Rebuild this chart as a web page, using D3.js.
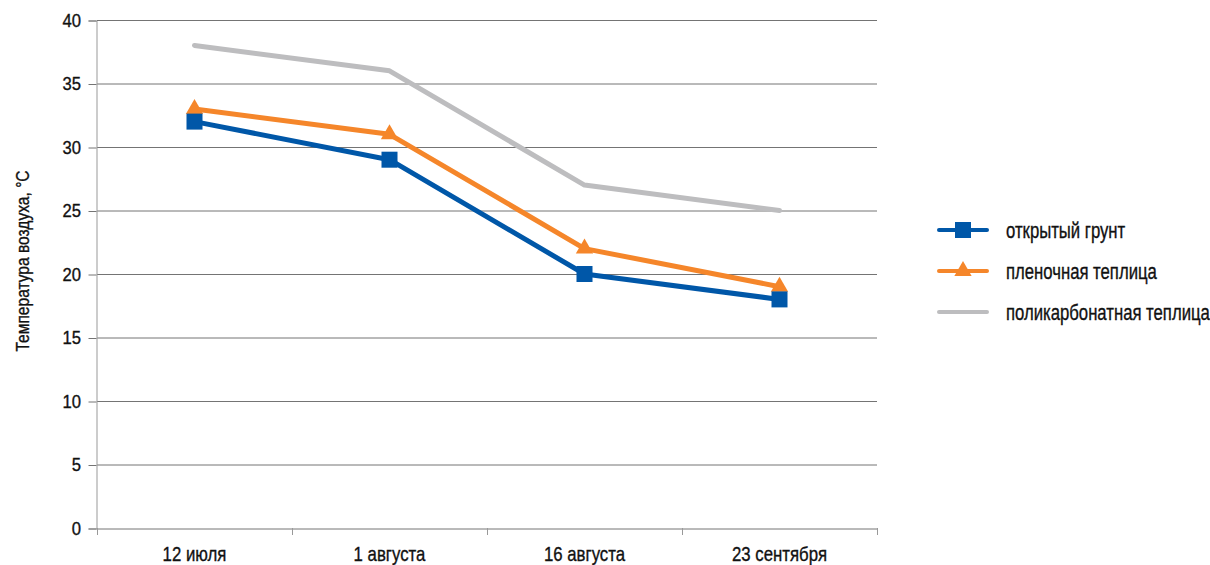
<!DOCTYPE html>
<html><head><meta charset="utf-8">
<script src="https://cdn.jsdelivr.net/npm/d3@7"></script>
<style>
html,body{margin:0;padding:0;background:#fff;}
svg text{font-family:"Liberation Sans","Arial",sans-serif;fill:#111;stroke:#111;stroke-width:0.35px;}
</style></head>
<body>
<svg id="chart" width="1210" height="565"></svg>
<script>
const categories = ["12 июля", "1 августа", "16 августа", "23 сентября"];
const openGround = [32, 29, 20, 18];
const filmGreenhouse = [33, 31, 22, 19];
const polyGreenhouse = [38, 36, 27, 25];
const seriesNames = ["открытый грунт", "пленочная теплица", "поликарбонатная теплица"];
const yTicks = [0, 5, 10, 15, 20, 25, 30, 35, 40];
const yTitle = "Температура воздуха, °С";

(function () {
const series = [
  {name: seriesNames[0], values: openGround, color: "#0057A8", marker: "square"},
  {name: seriesNames[1], values: filmGreenhouse, color: "#F5862A", marker: "triangle"},
  {name: seriesNames[2], values: polyGreenhouse, color: "#BDBDBF", marker: null}
];

const svg = d3.select("#chart");
const mLeft = 97, mRight = 877, mTop = 20, mBottom = 528;
const FONT = '"Liberation Sans","Arial",sans-serif';

const x = d3.scaleBand().domain(categories).range([mLeft, mRight]);
const y = d3.scaleLinear().domain([0, 40]).range([mBottom, mTop]);

// gridlines
svg.append("g").selectAll("line").data(yTicks.filter(d => d > 0)).join("line")
  .attr("x1", mLeft).attr("x2", mRight)
  .attr("y1", d => y(d) + 0.5).attr("y2", d => y(d) + 0.5)
  .attr("stroke", "#747474").attr("stroke-width", 1);

// y axis
const ky = 0.9;
const yAxis = svg.append("g").attr("transform", `translate(${mLeft - 0.5},0.5)`)
  .call(d3.axisLeft(y).tickValues(yTicks).tickSize(8).tickPadding(4));
yAxis.select(".domain").attr("stroke", "#999");
yAxis.selectAll(".tick line").attr("stroke", "#747474");
yAxis.selectAll(".tick text").attr("font-size", 18.5).attr("fill", "#111")
  .style("font-family", FONT)
  .attr("x", -15.5 / ky).attr("transform", `scale(${ky},1)`);

// x axis
const kx = 0.84;
const xAxis = svg.append("g").attr("transform", `translate(0,${mBottom + 0.5})`)
  .call(d3.axisBottom(x).tickSize(0).tickPadding(18));
xAxis.select(".domain").attr("stroke", "#747474");
xAxis.selectAll(".tick text").attr("font-size", 20).attr("fill", "#111")
  .style("font-family", FONT).attr("transform", `scale(${kx},1)`);
const bounds = categories.map(c => x(c)).concat([mRight]);
svg.append("g").selectAll("line").data(bounds).join("line")
  .attr("x1", d => d + 0.5).attr("x2", d => d + 0.5)
  .attr("y1", mBottom).attr("y2", mBottom + 7)
  .attr("stroke", "#999");

// y title
svg.append("text")
  .attr("transform", `translate(29,${(mTop + mBottom) / 2 - 13}) rotate(-90) scale(0.82,1)`)
  .attr("text-anchor", "middle").attr("font-size", 19).text(yTitle);

const cx = c => x(c) + x.bandwidth() / 2;
const line = d3.line().x((d, i) => cx(categories[i])).y(d => y(d));

const drawOrder = [series[2], series[1], series[0]];
drawOrder.forEach(s => {
  const g = svg.append("g");
  g.append("path").datum(s.values).attr("d", line)
    .attr("fill", "none").attr("stroke", s.color).attr("stroke-width", 5)
    .attr("stroke-linejoin", "round").attr("stroke-linecap", "round");
  if (s.marker === "square") {
    g.selectAll("rect").data(s.values).join("rect")
      .attr("x", (d, i) => cx(categories[i]) - 8).attr("y", d => y(d) - 8)
      .attr("width", 16).attr("height", 16).attr("fill", s.color);
  } else if (s.marker === "triangle") {
    g.selectAll("path.m").data(s.values).join("path").attr("class", "m")
      .attr("d", d3.symbol().type(d3.symbolTriangle).size(130))
      .attr("transform", (d, i) => `translate(${cx(categories[i])},${y(d)})`)
      .attr("fill", s.color);
  }
});

// legend
const legend = svg.append("g");
const legY = [230, 271, 312];
series.forEach((s, i) => {
  const g = legend.append("g").attr("transform", `translate(0,${legY[i]})`);
  g.append("line").attr("x1", 939).attr("x2", 987).attr("y1", 0).attr("y2", 0)
    .attr("stroke", s.color).attr("stroke-width", 4).attr("stroke-linecap", "round");
  if (s.marker === "square") {
    g.append("rect").attr("x", 955).attr("y", -8).attr("width", 16).attr("height", 16).attr("fill", s.color);
  } else if (s.marker === "triangle") {
    g.append("path").attr("d", d3.symbol().type(d3.symbolTriangle).size(130))
      .attr("transform", "translate(963,0)").attr("fill", s.color);
  }
  g.append("text").attr("transform", "translate(1006,0) scale(0.76,1)")
    .attr("dy", "0.35em").attr("font-size", 22).text(s.name);
});
})();
</script>
</body></html>
